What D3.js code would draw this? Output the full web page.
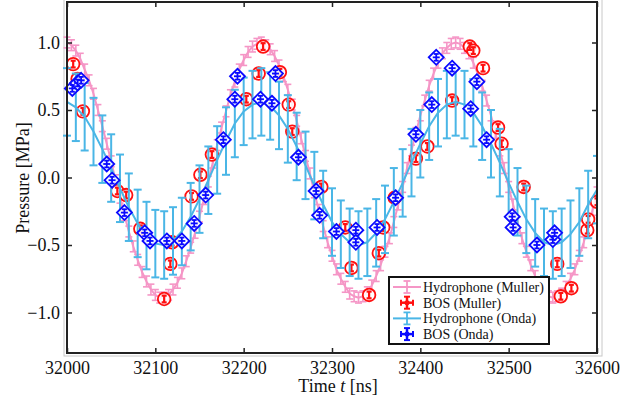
<!DOCTYPE html>
<html>
<head>
<meta charset="utf-8">
<script src="https://cdn.jsdelivr.net/npm/d3@7/dist/d3.min.js"></script>
<style>
body{margin:0;background:#fff;}
svg text{font-family:"Liberation Serif","Times New Roman",Times,serif;}
</style>
</head>
<body>
<script>
// hydrophone (Muller), one sample every 5 ns from 32000 to 32600
var mullerT = d3.range(32000, 32601, 5);
var mullerP = [1.00,0.98,0.94,0.88,0.80,0.72,0.62,0.50,0.38,0.25,0.12,-0.02,-0.15,-0.28,-0.40,-0.51,-0.61,-0.70,-0.77,-0.83,
  -0.87,-0.89,-0.89,-0.87,-0.83,-0.78,-0.71,-0.62,-0.52,-0.41,-0.29,-0.16,-0.03,0.11,0.24,0.37,0.49,0.61,0.71,0.80,
  0.87,0.93,0.97,0.99,1.00,0.98,0.95,0.90,0.83,0.75,0.65,0.54,0.42,0.29,0.16,0.03,-0.11,-0.24,-0.36,-0.48,
  -0.58,-0.68,-0.75,-0.81,-0.86,-0.88,-0.89,-0.88,-0.85,-0.80,-0.73,-0.65,-0.55,-0.45,-0.33,-0.20,-0.07,0.07,0.20,0.33,
  0.46,0.57,0.68,0.77,0.85,0.92,0.96,0.99,1.00,0.99,0.96,0.92,0.85,0.77,0.68,0.57,0.46,0.33,0.20,0.07,
  -0.07,-0.20,-0.33,-0.45,-0.55,-0.65,-0.73,-0.80,-0.85,-0.88,-0.89,-0.88,-0.86,-0.81,-0.75,-0.68,-0.58,-0.48,-0.36,-0.24,-0.11];
var mullerErr = 0.04;

// hydrophone (Onda), one sample every 10 ns
var ondaT = d3.range(32000, 32601, 10);
var ondaP = [0.56,0.52,0.45,0.34,0.21,0.07,-0.08,-0.22,-0.34,-0.43,
  -0.49,-0.50,-0.47,-0.40,-0.29,-0.16,-0.02,0.13,0.27,0.40,
  0.49,0.54,0.56,0.53,0.46,0.36,0.23,0.09,-0.06,-0.20,
  -0.33,-0.42,-0.48,-0.50,-0.48,-0.41,-0.31,-0.18,-0.04,0.11,
  0.25,0.38,0.48,0.54,0.56,0.54,0.48,0.38,0.25,0.11,
  -0.04,-0.18,-0.31,-0.41,-0.48,-0.50,-0.48,-0.42,-0.33,-0.20,-0.09];
var ondaErr = 0.25;

// BOS (Muller)
var bosMullerT = [32007,32012,32018,32057,32067,32083,32110,32117,32119,32141,32151,32164,32203,32217,32222,32241,32251,32255,
  32288,32315,32322,32342,32353,32358,32371,32395,32408,32436,32456,32460,32471,32488,32492,32517,32555,32559,32571,32589,32590,32600];
var bosMullerP = [0.84,0.73,0.49,-0.10,-0.13,-0.38,-0.90,-0.64,-0.48,-0.14,0.02,0.17,0.58,0.77,0.97,0.78,0.54,0.34,
  -0.07,-0.37,-0.67,-0.87,-0.56,-0.37,-0.15,0.14,0.23,0.57,0.97,0.94,0.81,0.37,0.25,-0.07,-0.64,-0.88,-0.82,-0.39,-0.31,-0.18];

// BOS (Onda)
var bosOndaT = [32006,32012,32016,32045,32051,32065,32088,32094,32113,32130,32144,32157,32177,32190,32193,32219,32232,32236,32262,
  32282,32286,32305,32327,32327,32351,32372,32395,32413,32418,32436,32457,32464,32475,32504,32505,32532,32550,32552];
var bosOndaP = [0.66,0.70,0.72,0.10,-0.02,-0.26,-0.41,-0.47,-0.47,-0.47,-0.34,-0.13,0.28,0.58,0.75,0.58,0.55,0.77,0.15,
  -0.10,-0.28,-0.40,-0.39,-0.48,-0.37,-0.15,0.32,0.54,0.89,0.81,0.51,0.71,0.28,-0.29,-0.37,-0.50,-0.46,-0.41];
var bosErr = 0.025;

var xTicks = [32000,32100,32200,32300,32400,32500,32600];
var yTicks = [-1.0,-0.5,0.0,0.5,1.0];
var legendLabels = ["Hydrophone (Muller)","BOS (Muller)","Hydrophone (Onda)","BOS (Onda)"];

var PINK = "#f596c6", RED = "#ff1010", SKY = "#4ab6e6", BLUE = "#0a0aff";

//画布
var width = 634, height = 397;
var svg = d3.select("body").append("svg")
            .attr("width", width)
            .attr("height", height);

var x = d3.scaleLinear().domain([32000, 32600]).range([67, 597]);
var y = d3.scaleLinear().domain([-1.3, 1.3]).range([353, 2]);

// light outer frame
svg.append("rect").attr("x", 64).attr("y", -2).attr("width", 538).attr("height", 358)
   .attr("fill", "none").attr("stroke", "#c8c8c8").attr("stroke-width", 1);

svg.append("clipPath").attr("id", "clip")
   .append("rect").attr("x", 60).attr("y", 2).attr("width", 537).attr("height", 351);
var plot = svg.append("g").attr("clip-path", "url(#clip)");

function errBars(g, ts, ps, e, color, cap, sw){
    ts.forEach(function(t, i){
        var cx = x(t), y0 = y(ps[i] - e), y1 = y(ps[i] + e);
        g.append("line").attr("x1", cx).attr("x2", cx).attr("y1", y0).attr("y2", y1)
         .attr("stroke", color).attr("stroke-width", sw);
        [y0, y1].forEach(function(yy){
            g.append("line").attr("x1", cx - cap).attr("x2", cx + cap).attr("y1", yy).attr("y2", yy)
             .attr("stroke", color).attr("stroke-width", sw);
        });
    });
}

var line = d3.line().x(function(d){ return x(d[0]); }).y(function(d){ return y(d[1]); });

// Hydrophone (Muller)
var gM = plot.append("g");
gM.append("path").datum(mullerT.map(function(t, i){ return [t, mullerP[i]]; }))
  .attr("d", line).attr("fill", "none").attr("stroke", PINK).attr("stroke-width", 2);
errBars(gM, mullerT, mullerP, mullerErr, PINK, 3.5, 1.6);

// BOS (Muller)
var gBM = plot.append("g");
bosMullerT.forEach(function(t, i){
    var cx = x(t), cy = y(bosMullerP[i]);
    gBM.append("circle").attr("cx", cx).attr("cy", cy).attr("r", 6.3)
       .attr("fill", "#fff").attr("fill-opacity", 0.85).attr("stroke", RED).attr("stroke-width", 1.8);
});
errBars(gBM, bosMullerT, bosMullerP, bosErr, RED, 2.5, 2.2);

// Hydrophone (Onda)
var gO = plot.append("g");
gO.append("path").datum(ondaT.map(function(t, i){ return [t, ondaP[i]]; }))
  .attr("d", line).attr("fill", "none").attr("stroke", SKY).attr("stroke-width", 2);
errBars(gO, ondaT, ondaP, ondaErr, SKY, 4, 2);

// BOS (Onda)
var gBO = plot.append("g");
bosOndaT.forEach(function(t, i){
    var cx = x(t), cy = y(bosOndaP[i]), s = 7.5;
    gBO.append("path")
       .attr("d", "M" + cx + "," + (cy - s) + "L" + (cx + s) + "," + cy + "L" + cx + "," + (cy + s) + "L" + (cx - s) + "," + cy + "Z")
       .attr("fill", "#fff").attr("fill-opacity", 0.85).attr("stroke", BLUE).attr("stroke-width", 1.8);
    gBO.append("line").attr("x1", cx - 3.5).attr("x2", cx + 3.5).attr("y1", cy).attr("y2", cy)
       .attr("stroke", BLUE).attr("stroke-width", 1.8);
});
errBars(gBO, bosOndaT, bosOndaP, bosErr, BLUE, 2.5, 1.8);

// axes, ticks inward on all four sides
function styleAxis(g){
    g.attr("font-family", null).attr("font-size", null);
    g.select(".domain").remove();
    g.selectAll(".tick line").attr("stroke", "#222").attr("stroke-width", 1.5);
    g.selectAll("text").style("font-size", "18px").attr("fill", "#111");
}
svg.append("g").attr("transform", "translate(0,353)")
   .call(d3.axisBottom(x).tickValues(xTicks).tickFormat(d3.format("d")).tickSizeInner(-5).tickSizeOuter(0).tickPadding(8))
   .call(styleAxis);
svg.append("g").attr("transform", "translate(0,2)")
   .call(d3.axisTop(x).tickValues(xTicks).tickFormat("").tickSizeInner(-5).tickSizeOuter(0))
   .call(styleAxis);
svg.append("g").attr("transform", "translate(67,0)")
   .call(d3.axisLeft(y).tickValues(yTicks).tickFormat(d3.format(".1f")).tickSizeInner(-5).tickSizeOuter(0).tickPadding(7))
   .call(styleAxis);
svg.append("g").attr("transform", "translate(597,0)")
   .call(d3.axisRight(y).tickValues(yTicks).tickFormat("").tickSizeInner(-5).tickSizeOuter(0))
   .call(styleAxis);

svg.append("rect").attr("x", 67).attr("y", 2).attr("width", 530).attr("height", 351)
   .attr("fill", "none").attr("stroke", "#222").attr("stroke-width", 2);

// axis titles
svg.append("text").attr("transform", "translate(29,178) rotate(-90)")
   .attr("text-anchor", "middle").style("font-size", "18px").attr("fill", "#111").text("Pressure [MPa]");
var xt = svg.append("text").attr("x", 338).attr("y", 392).attr("text-anchor", "middle")
   .style("font-size", "18px").attr("fill", "#111");
xt.append("tspan").text("Time ");
xt.append("tspan").attr("font-style", "italic").text("t");
xt.append("tspan").text(" [ns]");

// legend
var lg = svg.append("g");
lg.append("rect").attr("x", 389).attr("y", 277).attr("width", 160).attr("height", 67)
  .attr("fill", "#fff").attr("stroke", "#111").attr("stroke-width", 2);
var legColors = [PINK, RED, SKY, BLUE];
legendLabels.forEach(function(lab, i){
    var ly = 287 + i * 15.7, c = legColors[i], lx = 407;
    if (i % 2 == 0) {
        lg.append("line").attr("x1", 393).attr("x2", 421).attr("y1", ly).attr("y2", ly)
          .attr("stroke", c).attr("stroke-width", 2);
        lg.append("line").attr("x1", lx).attr("x2", lx).attr("y1", ly - 6).attr("y2", ly + 6)
          .attr("stroke", c).attr("stroke-width", 1.8);
        [ly - 6, ly + 6].forEach(function(yy){
            lg.append("line").attr("x1", lx - 3.5).attr("x2", lx + 3.5).attr("y1", yy).attr("y2", yy)
              .attr("stroke", c).attr("stroke-width", 1.8);
        });
    } else {
        lg.append("line").attr("x1", lx - 6).attr("x2", lx + 6).attr("y1", ly).attr("y2", ly)
          .attr("stroke", c).attr("stroke-width", 2.5);
        lg.append("line").attr("x1", lx).attr("x2", lx).attr("y1", ly - 6).attr("y2", ly + 6)
          .attr("stroke", c).attr("stroke-width", 2.5);
        [-6, 6].forEach(function(d){
            lg.append("line").attr("x1", lx - 3).attr("x2", lx + 3).attr("y1", ly + d).attr("y2", ly + d)
              .attr("stroke", c).attr("stroke-width", 2);
            lg.append("line").attr("x1", lx + d).attr("x2", lx + d).attr("y1", ly - 3).attr("y2", ly + 3)
              .attr("stroke", c).attr("stroke-width", 2);
        });
        lg.append("circle").attr("cx", lx).attr("cy", ly).attr("r", 2.5).attr("fill", c);
    }
    lg.append("text").attr("x", 423).attr("y", ly + 5).style("font-size", "14px").attr("fill", "#111").text(lab);
});
</script>
</body>
</html>
